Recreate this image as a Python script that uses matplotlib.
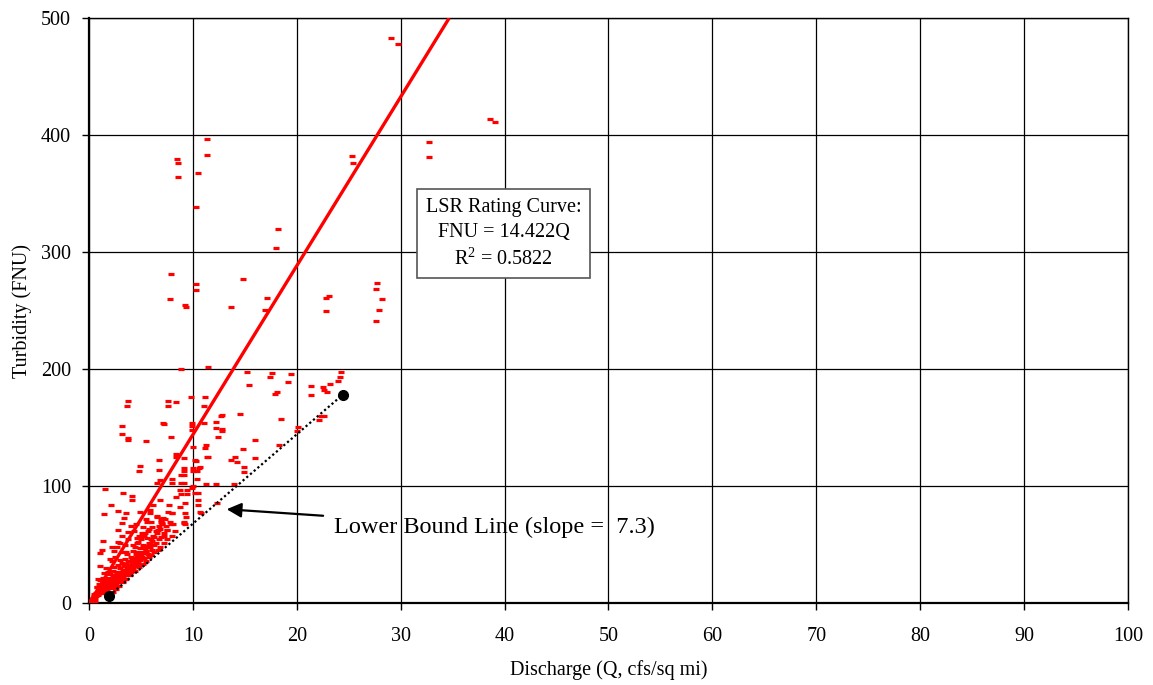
import matplotlib
matplotlib.use("Agg")
import matplotlib.pyplot as plt

plt.rcParams['font.family'] = ['Liberation Serif', 'DejaVu Serif']
plt.rcParams['mathtext.fontset'] = 'custom'
plt.rcParams['mathtext.rm'] = 'Liberation Serif'
plt.rcParams['mathtext.it'] = 'Liberation Serif:italic'

# Turbidity observations against unit-area discharge
q_high = [29.1, 29.7, 38.6, 39.1, 32.75, 32.75, 25.3, 25.4, 8.5, 8.6, 8.6, 11.4, 11.4, 10.5, 10.3,
          18.2, 18.0, 7.9, 10.3, 10.3, 14.8, 9.2, 9.3, 7.8, 13.7, 17.1, 16.9, 22.8, 23.1, 22.8,
          27.7, 27.6, 28.2, 27.9, 27.6]
fnu_high = [483, 478, 414, 411, 394, 381, 382, 376, 380, 376, 364, 397, 383, 368, 339,
            320, 304, 281, 273, 268, 277, 255, 253, 260, 253, 261, 251, 261, 263, 250,
            274, 269, 260, 251, 241]

q_mid = [8.9, 11.5, 15.2, 15.4, 17.6, 17.4, 19.4, 19.2, 24.3, 24.2, 24.0, 23.2, 22.5, 22.6, 22.9,
         21.4, 21.4, 18.1, 17.9, 18.5, 20.1, 20.0, 22.1, 22.3, 22.6, 16.0, 16.0, 18.3, 14.5, 12.8,
         12.7, 12.2, 9.9, 9.9, 9.9, 11.1, 12.2, 12.8, 12.8, 12.4, 10.0, 11.3, 11.2, 11.5, 11.4,
         13.7, 14.05, 14.2, 14.85, 10.3, 9.1, 10.0, 10.6, 10.7, 10.4, 10.0, 9.1, 14.9, 14.9, 10.4,
         9.1, 9.9, 11.3, 12.2, 14.0, 9.1, 10.0, 10.2, 10.5, 9.4, 8.9, 9.4, 9.2, 10.5, 10.5,
         12.3, 10.7, 10.8, 9.2, 9.3, 9.1, 9.1, 9.8, 11.2, 11.1]
fnu_mid = [200, 202, 197.5, 186.6, 197, 193, 196, 189, 197.6, 193, 189.6, 187.6, 184.8, 182.5, 180.8,
           186, 178, 181, 179, 157.4, 150.6, 147.7, 156.8, 160.5, 159.7, 139.7, 124.6, 135, 162, 161,
           160, 155, 154.5, 152, 148, 154, 150, 149, 147, 142, 133.5, 135, 132.6, 125, 125.5,
           122.6, 125, 121, 132, 122, 116, 115.5, 115.5, 116.4, 113.5, 113, 113.5, 116.4, 112.6, 106,
           110, 99, 102, 102, 102, 103, 100, 94.7, 94.7, 97, 93.6, 93.6, 85.6, 88.5, 84,
           85.6, 78.5, 77.5, 77, 74, 70, 68.5, 176.7, 176, 169]

q_low = [3.8, 3.7, 7.6, 7.6, 8.4, 3.2, 3.2, 3.75, 3.8, 5.5, 7.1, 7.2, 7.9, 4.9, 4.85,
         6.7, 6.7, 8.35, 8.4, 1.5, 8.0, 8.0, 8.9, 9.1, 8.9, 3.3, 4.1, 4.1, 2.1, 2.8,
         3.6, 1.4, 3.4, 3.15, 2.8, 3.8, 1.3, 1.25, 2.2, 0.9, 0.75, 6.5, 7.0, 8.0, 8.4,
         8.8, 6.5, 6.8, 6.2, 5.9, 5.1, 5.2, 4.7, 4.9, 7.05, 8.75, 8.1, 7.5, 9.25, 5.6,
         2.8, 1.07, 1.07, 10.2, 6.8]
fnu_low = [173, 169, 173, 169, 172, 152, 145, 141, 139.5, 139, 154.5, 153, 142, 117.5, 113,
           122.6, 114, 128, 125, 98, 106, 103, 110, 124, 103, 94, 92, 88.5, 84, 79.3,
           77, 76.5, 73, 69, 63, 61, 53.7, 46, 48.5, 20.7, 14.4, 74, 68.5, 77, 91,
           97, 103.3, 88, 84, 77, 60, 65.6, 52.8, 78.5, 72.2, 82.7, 68, 62.8, 68, 70,
           52.8, 42.9, 20, 122.6, 105.5]

q_dense = [0.3, 0.4, 0.5, 0.6, 0.7, 0.8, 0.9, 0.75, 1.0, 1.0, 0.6, 0.5,
           1.1, 1.2, 1.2, 1.3, 1.3, 1.4, 1.5, 1.5, 1.6, 1.6, 1.7, 1.7, 1.8, 1.8, 1.9, 1.9,
           2.0, 2.0, 1.4, 1.1, 1.6,
           2.1, 2.1, 2.2, 2.2, 2.3, 2.3, 2.4, 2.4, 2.5, 2.5, 2.6, 2.6, 2.7, 2.7, 2.8, 2.8,
           2.9, 2.9, 3.0, 3.0, 2.2, 2.5, 2.4, 2.0, 2.7,
           3.1, 3.1, 3.2, 3.2, 3.3, 3.3, 3.4, 3.4, 3.5, 3.5, 3.6, 3.6, 3.7, 3.7, 3.8, 3.8,
           3.9, 3.9, 4.0, 4.0, 3.3, 3.5, 3.0, 3.8, 3.2,
           4.1, 4.1, 4.2, 4.2, 4.3, 4.3, 4.4, 4.4, 4.5, 4.5, 4.6, 4.6, 4.7, 4.7, 4.8, 4.8,
           4.9, 4.9, 5.0, 5.0, 4.3, 4.5, 4.0,
           5.1, 5.2, 5.2, 5.3, 5.4, 5.4, 5.5, 5.6, 5.6, 5.7, 5.8, 5.8, 5.9, 6.0, 6.0, 6.1,
           6.2, 6.3, 6.4, 6.5, 6.5, 5.5, 5.9,
           6.6, 6.7, 6.8, 6.9, 7.0, 7.1, 7.2, 7.3, 7.4, 7.5, 7.6, 7.8, 7.9, 8.0, 7.7,
           5.5, 6.0, 6.3, 6.8, 7.2, 7.5, 8.0, 8.3, 6.6, 5.8, 5.2, 4.8, 4.4, 3.9, 3.6, 3.3,
           2.9, 2.6, 2.3, 2.1]
fnu_dense = [3, 5, 4, 7, 6, 9, 8, 14, 11, 13, 2, 8,
             10, 12, 16, 9, 14, 18, 11, 15, 13, 20, 12, 17, 15, 22, 14, 18,
             16, 25, 26, 32, 30,
             13, 19, 15, 22, 17, 28, 14, 20, 18, 24, 16, 21, 19, 27, 22, 33,
             20, 25, 23, 30, 36, 40, 45, 38, 48,
             21, 27, 24, 35, 22, 29, 26, 32, 25, 38, 28, 34, 27, 42, 30, 36,
             29, 33, 31, 40, 44, 50, 52, 55, 58,
             30, 37, 33, 45, 32, 39, 35, 48, 34, 42, 37, 52, 36, 44, 39, 58,
             38, 47, 41, 55, 62, 68, 66,
             40, 44, 50, 43, 47, 60, 45, 49, 56, 48, 52, 64, 51, 55, 70, 53,
             58, 57, 62, 60, 75, 72, 80,
             63, 66, 64, 70, 68, 73, 60, 72, 66, 63, 78, 70, 68, 77, 84,
             36, 41, 44, 48, 52, 55, 58, 62, 46, 40, 34, 31, 28, 24, 21, 18,
             15, 12, 10, 9]

# Extra readings packed along the base of the scatter
q_base = [0.2, 0.35, 0.45, 0.55, 0.65, 0.85, 0.95, 1.05, 1.15, 1.25, 1.35, 1.45, 1.55, 1.65,
          1.75, 1.85, 1.95, 2.05, 2.15, 2.25, 2.35, 2.45, 2.55, 2.65, 2.75, 2.85, 2.95, 3.05,
          3.15, 3.25, 3.35, 3.45, 3.55, 3.65, 3.75, 3.85, 3.95, 4.05, 4.15, 4.25, 4.35, 4.55,
          4.65, 4.75, 4.95, 5.05, 5.3, 5.45, 5.65, 5.85, 6.05, 6.25, 6.45, 6.7, 6.95, 7.25,
          1.0, 1.3, 1.8, 2.4, 3.0, 3.6, 4.2, 4.6, 5.3, 5.7, 6.1, 6.9]
fnu_base = [2, 4, 6, 5, 9, 7, 12, 9, 14, 11, 17, 13, 12, 18,
            16, 19, 21, 14, 17, 19, 23, 17, 20, 25, 18, 24, 22, 19,
            23, 27, 21, 29, 24, 31, 26, 28, 33, 27, 35, 30, 38, 33,
            40, 34, 37, 43, 39, 45, 42, 48, 46, 50, 52, 55, 57, 58,
            17, 22, 27, 31, 37, 44, 50, 56, 58, 62, 65, 71]

# Rating curve and lower bound
rating_slope = 14.422
r_squared = 0.5822
lb_slope = 7.3
lb_q = [1.95, 24.4]
lb_fnu = [6.7, lb_slope * 24.4]

x_ticks = list(range(0, 101, 10))
y_ticks = list(range(0, 501, 100))

fig = plt.figure(figsize=(11.53, 6.85), dpi=100)
ax = fig.add_axes([0.0772, 0.119, 0.9011, 0.8547])

ax.set_xlim(0, 100)
ax.set_ylim(0, 500)
ax.set_xticks(x_ticks)
ax.set_yticks(y_ticks)
ax.grid(True, color='black', linewidth=0.9)
ax.set_axisbelow(True)
for sp in ax.spines.values():
    sp.set_color('black')
    sp.set_linewidth(1.0)
ax.spines['left'].set_linewidth(1.6)
ax.spines['bottom'].set_linewidth(1.6)
ax.tick_params(direction='out', length=5, width=1, colors='black', labelsize=14.5)
ax.tick_params(axis='x', pad=12)
ax.tick_params(axis='y', pad=8)

all_q = q_high + q_mid + q_low + q_dense + q_base
all_fnu = fnu_high + fnu_mid + fnu_low + fnu_dense + fnu_base
ax.plot(all_q, all_fnu, ls='none', marker='_', ms=4.2, mew=2.3, color='red', zorder=3)

q_end = 500 / rating_slope
ax.plot([0, q_end], [0, rating_slope * q_end], color='red', lw=2.4, zorder=4,
        solid_capstyle='butt')

ax.plot(lb_q, lb_fnu, color='black', ls=(0, (1, 1.2)), lw=1.6, zorder=5)
ax.plot(lb_q, lb_fnu, ls='none', marker='o', ms=7, color='black', zorder=6)

ax.annotate(f'Lower Bound Line (slope =  {lb_slope})', xy=(13.25, 80.5), xytext=(23.6, 65),
            fontsize=17.5, va='center', ha='left',
            arrowprops=dict(arrowstyle='-|>', color='black', lw=1.6,
                            mutation_scale=22, shrinkA=6, shrinkB=0))

ax.text(39.9, 315.8, f'LSR Rating Curve:\nFNU = {rating_slope}Q\nR$^2$ = {r_squared}',
        fontsize=14.5, ha='center', va='center', linespacing=1.4, multialignment='center',
        bbox=dict(boxstyle='square,pad=0.45', facecolor='white', edgecolor='#555555', lw=1.2),
        zorder=7)

ax.set_xlabel('Discharge (Q, cfs/sq mi)', fontsize=14.5, labelpad=10)
ax.set_ylabel('Turbidity (FNU)', fontsize=14.5, labelpad=6)

fig.savefig('out.png', dpi=100)
